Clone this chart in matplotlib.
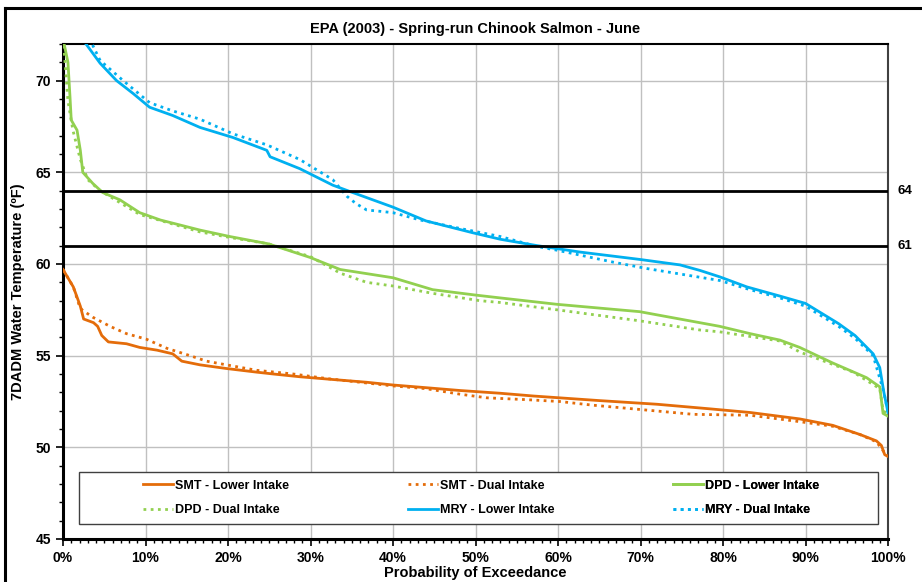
import matplotlib
matplotlib.use("Agg")
import matplotlib.pyplot as plt
from matplotlib import font_manager
from matplotlib.patches import Rectangle
from matplotlib.lines import Line2D
from matplotlib.ticker import MultipleLocator, FuncFormatter

# font: narrow Arial look if it is there
names = {f.name for f in font_manager.fontManager.ttflist}
family = "Liberation Sans Narrow" if "Liberation Sans Narrow" in names else "Liberation Sans"
plt.rcParams['font.family'] = [family, 'DejaVu Sans']
plt.rcParams['font.weight'] = 'bold'

# ---- data (probability of exceedance %, 7DADM deg F) ----
smt_lower_x = [0, 1.25, 2.1, 2.5, 3.7, 4.2, 4.7, 5.5, 7.7, 9.3, 11.4, 13.3, 14.4, 16.6, 19.8,
               23.5, 25.5, 28.7, 32.7, 36.8, 40, 44.1, 48.1, 53, 57, 60.2, 65, 72, 78.4,
               83.3, 89.3, 93.3, 96.6, 98.6, 99.2, 99.6, 100]
smt_lower_y = [59.7, 58.75, 57.7, 57.0, 56.8, 56.6, 56.1, 55.75, 55.65, 55.45, 55.3, 55.1, 54.7,
               54.5, 54.3, 54.1, 54.0, 53.85, 53.7, 53.55, 53.4, 53.25, 53.1, 52.95, 52.8, 52.7,
               52.55, 52.35, 52.1, 51.9, 51.55, 51.2, 50.7, 50.35, 50.1, 49.6, 49.5]

smt_dual_x = [0, 1.25, 2.0, 2.3, 3.6, 5.7, 7.7, 10.1, 12.6, 15.4, 17.4, 19.8, 23.5, 27.9, 32,
              36, 40, 44, 48.1, 51.4, 56.2, 60.2, 64.2, 70.3, 76.4, 83.3, 89.3, 93.3, 96.6,
              98.6, 99.6, 100]
smt_dual_y = [59.7, 58.75, 57.7, 57.5, 57.1, 56.6, 56.2, 55.9, 55.4, 55.0, 54.7, 54.5, 54.2,
              54.0, 53.75, 53.55, 53.35, 53.2, 52.9, 52.7, 52.6, 52.5, 52.3, 52.05, 51.8, 51.75,
              51.4, 51.15, 50.7, 50.3, 49.7, 49.6]

dpd_lower_x = [0, 0.6, 0.85, 1.0, 1.7, 2.1, 2.4, 3.6, 4.8, 6.9, 9.3, 11.8, 16.6, 20.2, 24.9,
               30, 33.6, 40, 44.8, 50.1, 53, 59.9, 69.9, 79.6, 83.3, 86.9, 89.3, 93.3, 97.4,
               99.0, 99.4, 100]
dpd_lower_y = [72.3, 71.0, 69.1, 67.85, 67.3, 66.2, 65.0, 64.4, 63.9, 63.5, 62.8, 62.4, 61.85,
               61.5, 61.1, 60.35, 59.7, 59.25, 58.6, 58.3, 58.15, 57.8, 57.4, 56.6, 56.2, 55.85,
               55.45, 54.6, 53.8, 53.3, 51.85, 51.7]

dpd_dual_x = [0, 0.25, 0.6, 1.2, 2.1, 3.0, 4.5, 9.3, 16.6, 20.2, 24.9, 30, 33.6, 36.8, 40,
              44.8, 50.5, 53, 59.9, 69.9, 77.2, 79.6, 86.9, 89.3, 95.8, 99.0, 99.4, 100]
dpd_dual_y = [72.3, 71.0, 68.9, 67.3, 65.7, 64.6, 64.0, 62.7, 61.75, 61.45, 61.1, 60.4, 59.5,
              59.0, 58.8, 58.4, 58.0, 57.9, 57.5, 56.9, 56.4, 56.3, 55.8, 55.2, 54.1, 53.2,
              52.0, 51.8]

mry_lower_x = [2.3, 4.5, 6.5, 8.5, 10.5, 13.3, 16.6, 20.6, 24.7, 25.1, 28.7, 32.7, 34.8, 40,
               44, 49.7, 53, 57.5, 62.7, 69.9, 74.8, 77.2, 79.6, 82.9, 86.9, 90, 92, 94,
               96, 98.2, 99.0, 99.5, 100]
mry_lower_y = [72.3, 70.95, 70.0, 69.3, 68.55, 68.1, 67.45, 66.9, 66.2, 65.85, 65.2, 64.3,
               63.95, 63.1, 62.35, 61.7, 61.35, 61.0, 60.65, 60.25, 59.95, 59.65, 59.3, 58.75,
               58.25, 57.85, 57.3, 56.75, 56.1, 55.1, 54.35, 53.0, 51.9]

mry_dual_x = [3.2, 4.5, 7.3, 10.5, 13.3, 16.6, 20.6, 24.7, 28.7, 32.7, 34.4, 35.5, 36.8, 40,
              43.3, 48, 53, 57.5, 59.9, 66.7, 70.8, 79.6, 82.9, 86.9, 90, 94, 96, 98.2, 99.5,
              100]
mry_dual_y = [72.3, 71.1, 70.0, 68.8, 68.35, 67.9, 67.1, 66.5, 65.7, 64.6, 63.7, 63.3, 62.95,
              62.8, 62.4, 61.95, 61.5, 60.95, 60.75, 60.1, 59.75, 59.1, 58.65, 58.15, 57.7,
              56.6, 55.95, 55.0, 53.0, 51.9]

thresholds = [64, 61]

ORANGE = "#E46C0A"
GREEN = "#92D050"
BLUE = "#00B0F0"
DOT = (0, (1, 1.6))

fig = plt.figure(figsize=(9.22, 5.82), dpi=100)
ax = fig.add_axes([63 / 922, 43 / 582, 825 / 922, 495 / 582])

series = [
    (smt_lower_x, smt_lower_y, ORANGE, '-', "SMT - Lower Intake"),
    (smt_dual_x, smt_dual_y, ORANGE, DOT, "SMT - Dual Intake"),
    (dpd_lower_x, dpd_lower_y, GREEN, '-', "DPD - Lower Intake"),
    (dpd_dual_x, dpd_dual_y, GREEN, DOT, "DPD - Dual Intake"),
    (mry_lower_x, mry_lower_y, BLUE, '-', "MRY - Lower Intake"),
    (mry_dual_x, mry_dual_y, BLUE, DOT, "MRY - Dual Intake"),
]
handles = []
for xs, ys, c, ls, lab in series:
    h, = ax.plot(xs, ys, color=c, linestyle=ls, lw=2.0, label=lab, zorder=3)
    handles.append(h)

for t in thresholds:
    ax.axhline(t, color="black", lw=2.0, zorder=4)
    ax.text(101.2, t, str(t), fontsize=9.5, fontweight='bold', va='center', ha='left',
            transform=ax.transData, clip_on=False)

ax.set_xlim(0, 100)
ax.set_ylim(45, 72)
ax.xaxis.set_major_locator(MultipleLocator(10))
ax.xaxis.set_minor_locator(MultipleLocator(1))
ax.yaxis.set_major_locator(MultipleLocator(5))
ax.yaxis.set_minor_locator(MultipleLocator(1))
ax.xaxis.set_major_formatter(FuncFormatter(lambda v, p: f"{v:.0f}%"))
ax.grid(True, which='major', color="#c0c0c0", lw=1.0, zorder=0)
ax.tick_params(axis='both', which='major', labelsize=10, length=5, width=1.2, direction='out')
ax.tick_params(axis='both', which='minor', length=3, width=1.0, direction='out')
for lab in ax.get_xticklabels() + ax.get_yticklabels():
    lab.set_fontweight('bold')

ax.spines['left'].set_linewidth(2.2)
ax.spines['bottom'].set_linewidth(2.2)
ax.spines['top'].set_linewidth(1.5)
ax.spines['right'].set_linewidth(1.5)
ax.spines['right'].set_color("#404040")

ax.set_title("EPA (2003) - Spring-run Chinook Salmon - June", fontsize=10.5, fontweight='bold', pad=8)
ax.set_xlabel("Probability of Exceedance", fontsize=10.5, fontweight='bold', labelpad=1)
ax.set_ylabel("7DADM Water Temperature (ºF)", fontsize=10.5, fontweight='bold', labelpad=8)

# legend frame and three columns
ax.add_patch(Rectangle((0.0194, 0.030), 0.968, 0.105, transform=ax.transAxes,
                       facecolor="white", edgecolor="#404040", lw=1.0, zorder=5))
cols = [(0.097, [handles[0], handles[3]]),
        (0.418, [handles[1], handles[4]]),
        (0.739, [handles[2], handles[5]])]
for x0, hs in cols:
    leg = ax.legend(handles=hs, loc='center left', bbox_to_anchor=(x0, 0.083),
                    frameon=False, borderpad=0, borderaxespad=0, handlelength=2.4,
                    handletextpad=0.15, labelspacing=1.0, prop={'size': 9, 'weight': 'bold'})
    leg.set_zorder(6)
    ax.add_artist(leg)

# outer chart border (left and top visible)
fig.add_artist(Line2D([5 / 922, 5 / 922], [0, 1 - 8 / 582], transform=fig.transFigure,
                      color="black", lw=2.2))
fig.add_artist(Line2D([5 / 922, 1], [1 - 8 / 582, 1 - 8 / 582], transform=fig.transFigure,
                      color="black", lw=2.2))

fig.savefig("out.png", dpi=100)
